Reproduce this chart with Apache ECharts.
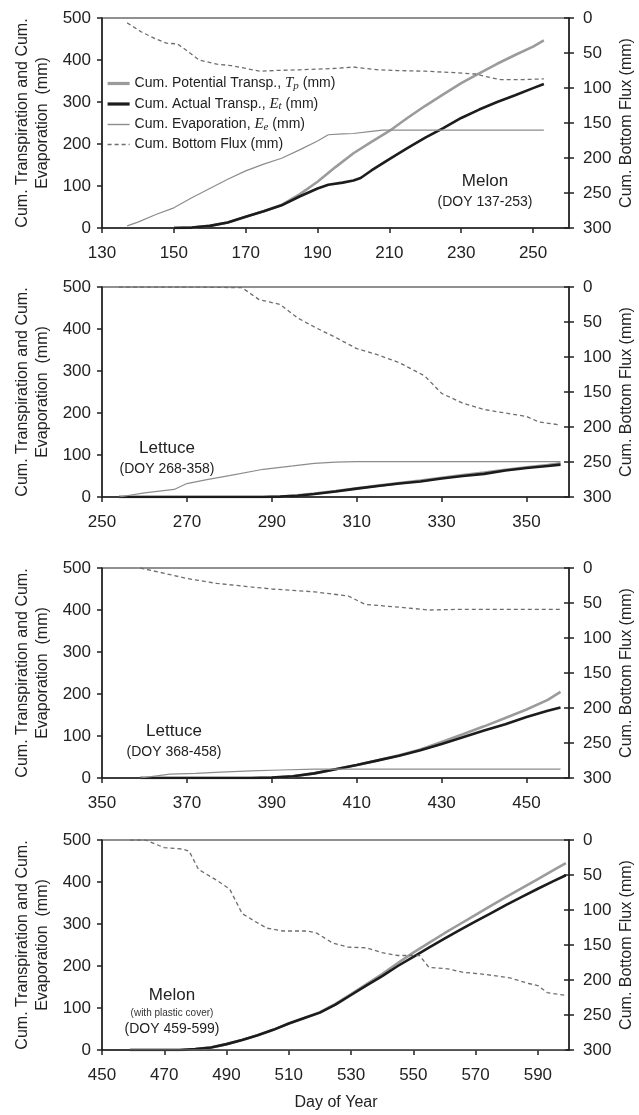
<!DOCTYPE html>
<html><head><meta charset="utf-8">
<script src="https://cdn.jsdelivr.net/npm/echarts@6/dist/echarts.min.js"></script>
<style>html,body{margin:0;padding:0;background:#fff}#c{width:639px;height:1115px}</style>
</head><body><div id="c"></div>
<script>
// ---------- DATA ----------
const seriesNames = ['Cum. Potential Transp., Tp (mm)', 'Cum. Actual Transp., Et (mm)', 'Cum. Evaporation, Ee (mm)', 'Cum. Bottom Flux (mm)'];
const xRanges = [[130, 260], [250, 360], [350, 460], [450, 600]];
const cropLabels = [['Melon', '(DOY 137-253)'], ['Lettuce', '(DOY 268-358)'], ['Lettuce', '(DOY 368-458)'], ['Melon', '(with plastic cover)', '(DOY 459-599)']];

// Panel 1 (Melon)
const p1Tp = [[150,0],[155,1],[160,5],[165,13],[170,27],[175,40],[180,55],[185,80],[190,110],[195,145],[200,178],[205,205],[210,231],[215,262],[220,291],[225,318],[230,345],[235,368],[240,391],[245,412],[250,432],[253,447]];
const p1Et = [[150,0],[155,1],[160,5],[165,13],[170,27],[175,40],[180,54],[185,75],[190,94],[193,103],[197,108],[200,113],[202,119],[205,137],[210,164],[215,190],[220,215],[225,238],[230,262],[235,282],[240,300],[245,316],[250,333],[253,343]];
const p1Ee = [[137,5],[140,14],[145,32],[150,48],[155,72],[160,94],[165,116],[170,136],[175,152],[180,166],[185,186],[190,207],[193,222],[197,224],[200,225],[205,230],[208,233],[253,233]];
const p1Flux = [[137,7],[141,20],[145,30],[148,36],[151,37],[154,48],[157,60],[162,66],[166,68],[170,72],[174,76],[178,75],[185,74],[190,73],[195,72],[200,70],[203,72],[207,74],[212,75],[220,76],[228,78],[234,80],[238,85],[241,88],[247,88],[253,87]];

// Panel 2 (Lettuce)
const p2Tp = [[254,0],[288,0],[292,1],[296,4],[300,8],[305,14],[310,21],[315,27],[320,33],[325,39],[330,46],[335,52],[340,58],[345,65],[350,71],[355,76],[358,80]];
const p2Et = [[254,0],[288,0],[292,1],[296,3],[300,7],[305,13],[310,20],[315,26],[320,32],[325,37],[330,44],[335,50],[340,55],[345,63],[350,69],[355,74],[358,77]];
const p2Ee = [[254,0],[260,10],[267,18],[270,32],[275,42],[280,51],[288,66],[295,74],[300,80],[305,83],[310,84],[358,84]];
const p2Flux = [[254,0],[270,0],[283,1],[287,18],[292,25],[296,44],[300,57],[305,72],[310,88],[315,97],[320,108],[326,127],[330,152],[335,166],[340,175],[345,180],[350,185],[353,193],[358,197]];

// Panel 3 (Lettuce)
const p3Tp = [[359,0],[385,0],[390,1],[395,4],[400,11],[405,21],[410,31],[415,42],[420,54],[425,68],[430,86],[435,104],[440,123],[445,143],[450,163],[455,186],[458,205]];
const p3Et = [[359,0],[385,0],[390,1],[395,4],[400,11],[405,21],[410,31],[415,42],[420,53],[425,66],[430,81],[435,97],[440,113],[445,128],[450,145],[455,160],[458,168]];
const p3Ee = [[359,0],[362,4],[366,9],[372,11],[378,14],[385,17],[392,19],[400,21],[458,21]];
const p3Flux = [[359,0],[365,8],[370,15],[377,22],[385,27],[390,30],[400,34],[408,40],[412,52],[420,56],[427,60],[435,59],[458,59]];

// Panel 4 (Melon, plastic cover)
const p4Tp = [[459,0],[475,0],[480,2],[485,6],[490,14],[495,24],[500,35],[505,48],[510,63],[515,76],[520,90],[525,110],[530,133],[535,157],[540,181],[545,207],[550,232],[555,255],[560,278],[565,300],[570,322],[575,344],[580,365],[585,386],[590,407],[595,428],[599,445]];
const p4Et = [[459,0],[475,0],[480,2],[485,6],[490,14],[495,24],[500,35],[505,48],[510,63],[515,76],[520,89],[525,108],[530,131],[535,154],[540,176],[545,200],[550,222],[555,244],[560,265],[565,286],[570,306],[575,326],[580,346],[585,365],[590,384],[595,402],[599,416]];
const p4Ee = [[459,0],[599,0]];
const p4Flux = [[459,0],[464,0],[470,11],[476,13],[478,16],[481,42],[487,58],[491,70],[495,105],[499,116],[503,126],[508,130],[516,130],[519,133],[524,147],[529,153],[535,154],[540,161],[545,165],[552,165],[555,182],[561,184],[566,189],[573,192],[581,197],[587,205],[590,208],[593,218],[599,222]];

const panels = [[p1Tp, p1Et, p1Ee, p1Flux], [p2Tp, p2Et, p2Ee, p2Flux], [p3Tp, p3Et, p3Ee, p3Flux], [p4Tp, p4Et, p4Ee, p4Flux]];

// ---------- LAYOUT / STYLE ----------
const FONT = 'Liberation Sans, Arial, sans-serif';
const gridTops = [18, 287, 568, 840];
const gridH = 210, gridL = 102, gridW = 467;
const axisCol = '#222';
const styles = [
  {color: '#9b9b9b', width: 2.6, type: 'solid'},
  {color: '#1c1c1c', width: 2.6, type: 'solid'},
  {color: '#8c8c8c', width: 1.2, type: 'solid'},
  {color: '#6e6e6e', width: 1.3, type: [4, 3]}
];

const grid = [], xAxis = [], yAxis = [], series = [], graphic = [];
gridTops.forEach((top, i) => {
  grid.push({left: gridL, top: top, width: gridW, height: gridH, show: true, borderColor: axisCol, borderWidth: 1.2, backgroundColor: 'transparent'});
  xAxis.push({
    type: 'value', gridIndex: i, min: xRanges[i][0], max: xRanges[i][1], interval: 20,
    axisLine: {show: true, lineStyle: {color: axisCol, width: 1.5}},
    axisTick: {show: true, inside: false, length: 5, lineStyle: {color: axisCol, width: 1.5}},
    axisLabel: {color: axisCol, fontSize: 17, fontFamily: FONT, margin: 17, showMaxLabel: false},
    splitLine: {show: false}
  });
  yAxis.push({
    type: 'value', gridIndex: i, position: 'left', min: 0, max: 500, interval: 100,
    axisLine: {show: true, lineStyle: {color: axisCol, width: 1.5}},
    axisTick: {show: true, inside: false, length: 5, lineStyle: {color: axisCol, width: 1.5}},
    axisLabel: {color: axisCol, fontSize: 17, fontFamily: FONT, margin: 11},
    splitLine: {show: false}
  });
  yAxis.push({
    type: 'value', gridIndex: i, position: 'right', min: 0, max: 300, interval: 50, inverse: true,
    axisLine: {show: true, lineStyle: {color: axisCol, width: 1.5}},
    axisTick: {show: true, inside: false, length: 5, lineStyle: {color: axisCol, width: 1.5}},
    axisLabel: {color: axisCol, fontSize: 17, fontFamily: FONT, margin: 14},
    splitLine: {show: false}
  });
  yAxis.push({
    type: 'value', gridIndex: i, position: 'right', min: 0, max: 300, interval: 50, inverse: true,
    axisLine: {show: false},
    axisTick: {show: true, inside: true, length: 5, lineStyle: {color: axisCol, width: 1.5}},
    axisLabel: {show: false},
    splitLine: {show: false}
  });
  panels[i].forEach((arr, k) => {
    series.push({
      type: 'line', name: seriesNames[k], xAxisIndex: i, yAxisIndex: k === 3 ? 3 * i + 1 : 3 * i,
      data: arr, showSymbol: false, symbol: 'none', smooth: false, z: 2 + k,
      lineStyle: {color: styles[k].color, width: styles[k].width, type: styles[k].type},
      itemStyle: {color: styles[k].color},
      emphasis: {disabled: true}
    });
  });
  // axis titles
  graphic.push({type: 'text', x: 33, y: top + gridH / 2, rotation: Math.PI / 2,
    style: {text: 'Cum. Transpiration and Cum.\nEvaporation  (mm)', font: '16px ' + FONT, fill: '#222',
      align: 'center', verticalAlign: 'middle', lineHeight: 20}});
  graphic.push({type: 'text', x: 627, y: top + gridH / 2, rotation: Math.PI / 2,
    style: {text: 'Cum. Bottom Flux (mm)', font: '16px ' + FONT, fill: '#222', align: 'center', verticalAlign: 'middle'}});
});

// crop annotations
const annPos = [[485, 181], [167, 448], [174, 731], [172, 995]];
cropLabels.forEach((lines, i) => {
  const [cx, cy] = annPos[i];
  graphic.push({type: 'text', x: cx, y: cy, style: {text: lines[0], font: '17px ' + FONT, fill: '#222', align: 'center', verticalAlign: 'middle'}});
  if (lines.length === 2) {
    graphic.push({type: 'text', x: cx, y: cy + 21, style: {text: lines[1], font: '14px ' + FONT, fill: '#222', align: 'center', verticalAlign: 'middle'}});
  } else {
    graphic.push({type: 'text', x: cx, y: cy + 18, style: {text: lines[1], font: '10px ' + FONT, fill: '#333', align: 'center', verticalAlign: 'middle'}});
    graphic.push({type: 'text', x: cx, y: cy + 34, style: {text: lines[2], font: '14px ' + FONT, fill: '#222', align: 'center', verticalAlign: 'middle'}});
  }
});
graphic.push({type: 'text', x: 336, y: 1103, style: {text: 'Day of Year', font: '16px ' + FONT, fill: '#222', align: 'center', verticalAlign: 'middle'}});

const legendRich = {};
legendRich[seriesNames[0]] = '{t|Cum. Potential Transp., }{i|T}{s|p}{t| (mm)}';
legendRich[seriesNames[1]] = '{t|Cum. Actual Transp., }{i|E}{s|t}{t| (mm)}';
legendRich[seriesNames[2]] = '{t|Cum. Evaporation, }{i|E}{s|e}{t| (mm)}';
legendRich[seriesNames[3]] = '{t|Cum. Bottom Flux (mm)}';

const legendData = seriesNames.map((n, k) => ({
  name: n,
  lineStyle: {color: styles[k].color, width: k < 2 ? 3.2 : 1.4, type: styles[k].type}
}));

const chart = echarts.init(document.getElementById('c'), null, {renderer: 'canvas'});
chart.setOption({
  animation: false,
  backgroundColor: '#fff',
  grid, xAxis, yAxis, series, graphic,
  legend: {
    data: legendData, orient: 'vertical', left: 106, top: 76, itemGap: 5, itemWidth: 22, itemHeight: 12,
    selectedMode: false, padding: 0,
    itemStyle: {opacity: 0},
    formatter: name => legendRich[name],
    textStyle: {
      rich: {
        t: {fontSize: 14, fontFamily: FONT, color: '#222'},
        i: {fontSize: 15, fontFamily: 'Liberation Serif, serif', fontStyle: 'italic', color: '#222'},
        s: {fontSize: 11, fontFamily: 'Liberation Serif, serif', fontStyle: 'italic', color: '#222', verticalAlign: 'bottom', padding: [5, 0, 0, 0]}
      }
    }
  }
});
</script></body></html>
